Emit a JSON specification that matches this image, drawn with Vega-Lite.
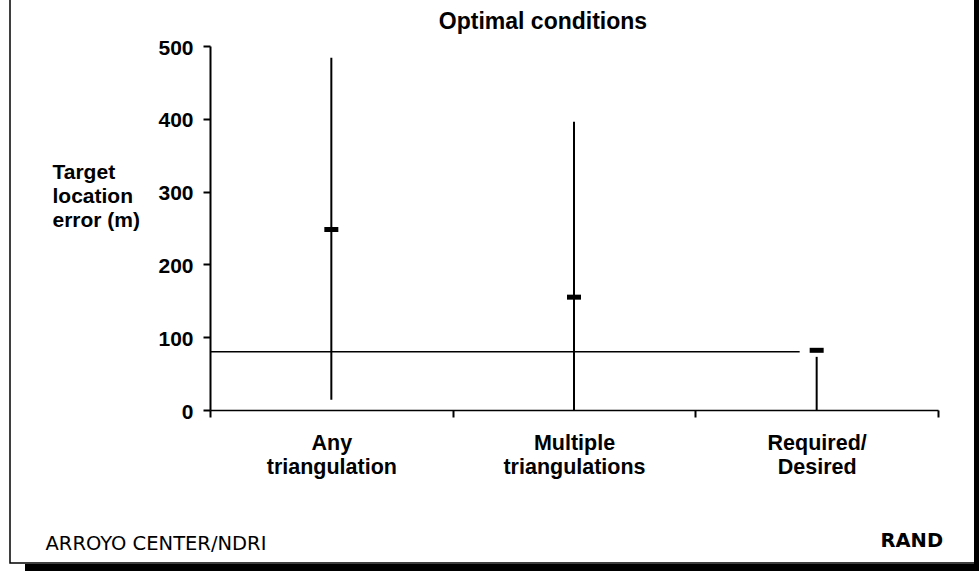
{
  "$schema": "https://vega.github.io/schema/vega-lite/v6.json",
  "width": 728,
  "height": 364,
  "autosize": {"type": "none"},
  "padding": {"left": 210, "top": 46, "right": 41, "bottom": 161},
  "background": "white",
  "config": {"view": {"stroke": null}, "font": "Liberation Sans"},
  "title": {"text": "Optimal conditions", "frame": "group", "anchor": "middle", "dx": -31, "dy": 62, "offset": 13, "fontSize": 23, "fontWeight": "bold", "font": "Liberation Sans", "color": "black"},
  "data": {"values": [
    {"category": "Any triangulation", "low": 14, "high": 484, "mean": 248},
    {"category": "Multiple triangulations", "low": 0, "high": 396, "mean": 155},
    {"category": "Required/ Desired", "low": 0, "high": 73, "mean": 82}
  ]},
  "resolve": {"axis": {"y": "independent"}},
  "layer": [
    {
      "mark": {"type": "rule", "strokeWidth": 2, "color": "black"},
      "encoding": {
        "x": {"field": "category", "type": "nominal", "sort": null,
          "scale": {"paddingInner": 0, "paddingOuter": 0},
          "axis": {"title": "ARROYO CENTER/NDRI", "titleFont": "DejaVu Sans", "titleFontSize": 19.5, "titleFontWeight": "normal", "titleX": -165, "titleY": 139, "titleAlign": "left", "titleAnchor": "start", "titleBaseline": "alphabetic", "titleColor": "black",
            "labelAngle": 0, "labelExpr": "split(datum.label, ' ')", "labelFont": "Liberation Sans", "labelFontSize": 21.5, "labelFontWeight": "bold", "labelColor": "black", "labelLineHeight": 24, "labelPadding": 15, "labelBaseline": "top",
            "tickBand": "extent", "tickSize": 7, "tickWidth": 2, "tickColor": "black", "domainColor": "black", "domainWidth": 1.5, "grid": false}},
        "y": {"field": "low", "type": "quantitative", "scale": {"domain": [0, 500], "nice": false},
          "axis": {"title": ["Target", "location", "error (m)"], "titleAngle": 0, "titleAlign": "left", "titleBaseline": "alphabetic", "titleX": -158, "titleY": 132, "titleFont": "Liberation Sans", "titleFontSize": 21, "titleFontWeight": "bold", "titleLineHeight": 24, "titleColor": "black",
            "values": [0, 100, 200, 300, 400, 500], "labelFont": "Liberation Sans", "labelFontSize": 21, "labelFontWeight": "bold", "labelColor": "black", "labelPadding": 10, "labelOffset": 2,
            "tickSize": 7, "tickWidth": 2, "tickColor": "black", "domainColor": "black", "domainWidth": 2, "grid": false}},
        "y2": {"field": "high"}
      }
    },
    {
      "mark": {"type": "tick", "color": "black", "size": 14, "thickness": 5, "opacity": 1},
      "encoding": {
        "x": {"field": "category", "type": "nominal", "sort": null},
        "y": {"field": "mean", "type": "quantitative",
          "axis": {"orient": "right", "title": "RAND", "titleAngle": 0, "titleX": -58, "titleY": 500, "titleAlign": "left", "titleBaseline": "alphabetic", "titleFont": "DejaVu Sans", "titleFontSize": 19.5, "titleFontWeight": "bold", "titleColor": "black", "domain": false, "ticks": false, "labels": false, "grid": false}}
      }
    },
    {
      "data": {"values": [{"start": "Any triangulation", "end": "Required/ Desired", "level": 80}]},
      "mark": {"type": "rule", "strokeWidth": 1.5, "color": "black"},
      "encoding": {
        "x": {"field": "start", "type": "nominal", "bandPosition": 0},
        "x2": {"field": "end", "bandPosition": 0.43},
        "y": {"field": "level", "type": "quantitative", "axis": null}
      }
    },
    {
      "data": {"values": [{"frame": "outline"}]},
      "mark": {"type": "rect", "fill": null, "fillOpacity": 0, "stroke": "black", "strokeWidth": 1.5},
      "encoding": {"x": {"value": -200}, "x2": {"value": 765}, "y": {"value": -60}, "y2": {"value": 517}}
    },
    {
      "data": {"values": [{"frame": "right"}]},
      "mark": {"type": "rect", "fill": "black"},
      "encoding": {"x": {"value": 764}, "x2": {"value": 769}, "y": {"value": -60}, "y2": {"value": 525}}
    },
    {
      "data": {"values": [{"frame": "bottom"}]},
      "mark": {"type": "rect", "fill": "black"},
      "encoding": {"x": {"value": -185}, "x2": {"value": 769}, "y": {"value": 518}, "y2": {"value": 525}}
    }
  ]
}
